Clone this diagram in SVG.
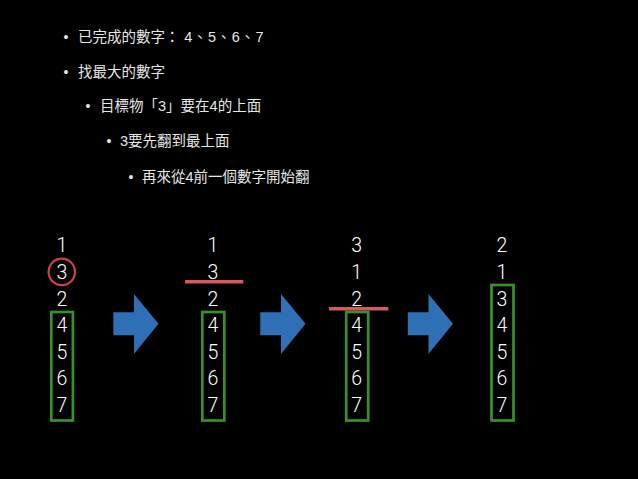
<svg xmlns="http://www.w3.org/2000/svg" width="638" height="479" viewBox="0 0 638 479">
<style>
.t{font-family:"Liberation Sans","Noto Sans CJK TC",sans-serif;font-size:14.5px;fill:#e6e6e6}
.n{letter-spacing:0.6px}
.b{font-family:"Liberation Sans",sans-serif;font-size:14px;fill:#e6e6e6;text-anchor:middle}
.d{font-family:Roboto,"Liberation Sans",sans-serif;font-weight:300;font-size:19.5px;fill:#ffffff;text-anchor:middle}
.box{fill:none;stroke:#3b8f2c;stroke-width:2.7}
.ring{fill:none;stroke:#c9434b;stroke-width:2.2}
.bar{stroke:#d35b5b;stroke-width:3.6}
.arr{fill:#2f6fb6}
</style>
<defs>
<polygon id="arrow" class="arr" points="113.3,312.3 134,312.3 134,294 158.5,323.7 134,354 134,335.2 113.3,335.2"/>
</defs>
<rect width="638" height="479" fill="#000"/>
<g id="bullets">
<text class="b" x="66" y="41.5">•</text><text class="t" x="78" y="41.5">已完成的數字：<tspan class="n"> 4、5、6、7</tspan></text>
<text class="b" x="66" y="76.5">•</text><text class="t" x="78" y="76.5">找最大的數字</text>
<text class="b" x="88" y="111">•</text><text class="t" x="100" y="111">目標物「3」要在4的上面</text>
<text class="b" x="109" y="146">•</text><text class="t" x="120" y="146">3要先翻到最上面</text>
<text class="b" x="131" y="181.5">•</text><text class="t" x="142" y="181.5">再來從4前一個數字開始翻</text>
</g>
<g id="stack1">
<text class="d" x="62" y="252.3">1</text>
<text class="d" x="62" y="278.9">3</text>
<text class="d" x="62" y="305.5">2</text>
<text class="d" x="62" y="332">4</text>
<text class="d" x="62" y="358.6">5</text>
<text class="d" x="62" y="385.2">6</text>
<text class="d" x="62" y="411.7">7</text>
<circle class="ring" cx="61.8" cy="271.9" r="13.2"/>
<rect class="box" x="51.3" y="312" width="21.6" height="108.5"/>
</g>
<g id="stack2">
<text class="d" x="213" y="252.3">1</text>
<text class="d" x="213" y="278.9">3</text>
<text class="d" x="213" y="305.5">2</text>
<text class="d" x="213" y="332">4</text>
<text class="d" x="213" y="358.6">5</text>
<text class="d" x="213" y="385.2">6</text>
<text class="d" x="213" y="411.7">7</text>
<line class="bar" x1="185" y1="281.7" x2="243.3" y2="281.7"/>
<rect class="box" x="202.3" y="312" width="22" height="108.5"/>
</g>
<g id="stack3">
<text class="d" x="356.7" y="252.3">3</text>
<text class="d" x="356.7" y="278.9">1</text>
<text class="d" x="356.7" y="305.5">2</text>
<text class="d" x="356.7" y="332">4</text>
<text class="d" x="356.7" y="358.6">5</text>
<text class="d" x="356.7" y="385.2">6</text>
<text class="d" x="356.7" y="411.7">7</text>
<rect class="box" x="346.2" y="312" width="22" height="108.5"/>
<line class="bar" x1="329" y1="308.7" x2="388.3" y2="308.7"/>
</g>
<g id="stack4">
<text class="d" x="502" y="252.3">2</text>
<text class="d" x="502" y="278.9">1</text>
<text class="d" x="502" y="305.5">3</text>
<text class="d" x="502" y="332">4</text>
<text class="d" x="502" y="358.6">5</text>
<text class="d" x="502" y="385.2">6</text>
<text class="d" x="502" y="411.7">7</text>
<rect class="box" x="491.5" y="285" width="22" height="135.5"/>
</g>
<g id="connectors">
<use href="#arrow"/>
<use href="#arrow" transform="translate(147,0)"/>
<use href="#arrow" transform="translate(294.5,0)"/>
</g>
</svg>
